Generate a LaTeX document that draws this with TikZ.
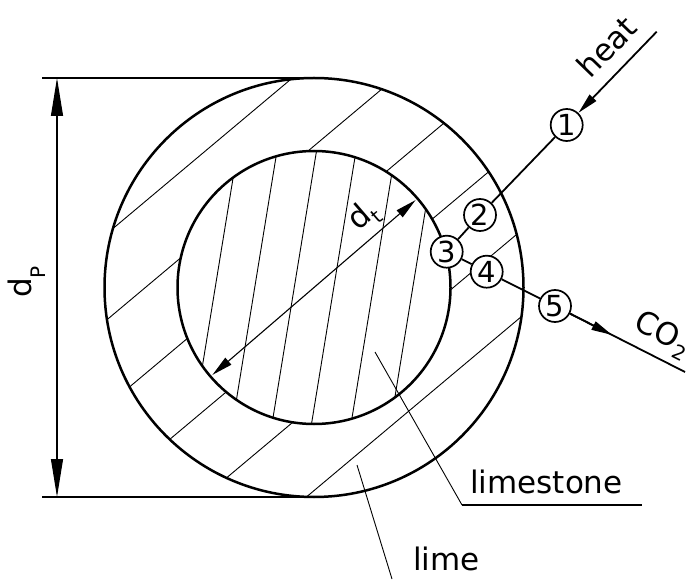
\documentclass[tikz,border=0pt]{standalone}
\usepackage{fontspec}
\setmainfont{DejaVu Sans}
\usetikzlibrary{arrows.meta,calc}
\newcommand{\lowsub}[2][-0.25em]{\raisebox{#1}{\fontsize{20}{20}\selectfont #2}}
\begin{document}
\begin{tikzpicture}[x=1pt,y=1pt,
  ring/.style={line width=2.5pt},
  hatch/.style={line width=0.9pt},
  dimline/.style={line width=1.1pt},
  conn/.style={line width=1.8pt},
  numc/.style={circle, draw, fill=white, line width=1.7pt, minimum size=32pt, inner sep=0pt, font=\fontsize{29}{29}\selectfont},
  lbl/.style={font=\fontsize{31}{36}\selectfont, inner sep=0pt},
  bigtip/.style={{Triangle[length=38pt,width=12pt]}-{Triangle[length=38pt,width=12pt]}},
  smalltips/.style={{Triangle[length=21pt,width=9pt]}-{Triangle[length=21pt,width=9pt]}},
  endtip/.style={-{Triangle[length=21pt,width=9pt]}}
]
\useasboundingbox (0,0) rectangle (691,579);
\coordinate (C) at (314,291.5);

% hatching of the lime ring
\begin{scope}
  \clip (C) circle[radius=209.5];
  \begin{scope}[shift={(C)},rotate=40]
    \foreach \d in {174.4,108.4,42.4,-23.6,-89.6,-155.6}
      \draw[hatch] (-260,\d) -- (260,\d);
  \end{scope}
\end{scope}
\fill[white] (C) circle[radius=136.5];
% hatching of the limestone core
\begin{scope}
  \clip (C) circle[radius=136.5];
  \begin{scope}[shift={(C)},rotate=80.74]
    \foreach \d in {97.5,58.5,19.5,-19.5,-58.5,-97.5}
      \draw[hatch] (-160,\d) -- (160,\d);
  \end{scope}
\end{scope}

\draw[ring] (C) circle[radius=209.5];
\draw[ring] (C) circle[radius=136.5];

% dimension d_P
\coordinate (ettop) at (42,501);
\coordinate (etbot) at (42,82);
\coordinate (tgtop) at (314,501);
\coordinate (tgbot) at (314,82);
\coordinate (dtop) at (57,501);
\coordinate (dbot) at (57,82);
\draw[dimline] (ettop) -- (tgtop);
\draw[dimline] (etbot) -- (tgbot);
\draw[dimline,bigtip] (dtop) -- (dbot);
\node[lbl, rotate=90] (dp) at (27,297) {d\lowsub[-0.45em]{P}};

% dimension d_t
\coordinate (dtA) at ($(C)+(220.7:134)$);
\coordinate (dtB) at ($(C)+(40.7:134)$);
\draw[dimline,smalltips] (dtA) -- (dtB);
\node[lbl, rotate=40.7] (dt) at ($(C)+(40.7:84)+(130.7:21)$) {d\lowsub{t}};

% numbered stations
\node[numc] (n1) at (566.7,454) {1};
\node[numc] (n2) at (480,364) {2};
\node[numc] (n3) at (446.7,327.3) {3};
\node[numc] (n4) at (486.7,307.3) {4};
\node[numc] (n5) at (555,273) {5};
\coordinate (heat0) at (656.7,547.3);
\coordinate (co2end) at (685,207);
\coordinate (co2tip) at ($(n5.center)!0.44!(co2end)$);

\draw[conn,endtip] (heat0) -- (n1);
\draw[conn] (n1) -- (n2);
\draw[conn] (n2) -- (n3);
\draw[conn] (n3) -- (n4);
\draw[conn] (n4) -- (n5);
\draw[conn] (n5) -- (co2end);
\draw[conn,endtip] (n5) -- (co2tip);

\node[lbl, rotate=45.9] (heat) at (606.7,532.3) {heat};
\node[lbl, rotate=-26.6] (co2) at (662,244) {CO\lowsub{2}};

% leaders
\coordinate (lsA) at (375,227);
\coordinate (lsB) at (462,74);
\coordinate (lsC) at (642,74);
\draw[hatch] (lsA) -- (lsB);
\draw[conn] (lsB) -- (lsC);
\node[lbl, anchor=base west] (limestone) at (470,86) {limestone};
\coordinate (lmA) at (357,114);
\coordinate (lmB) at (392,0);
\draw[hatch] (lmA) -- (lmB);
\node[lbl, anchor=base west] (lime) at (413,9) {lime};
\end{tikzpicture}
\end{document}
